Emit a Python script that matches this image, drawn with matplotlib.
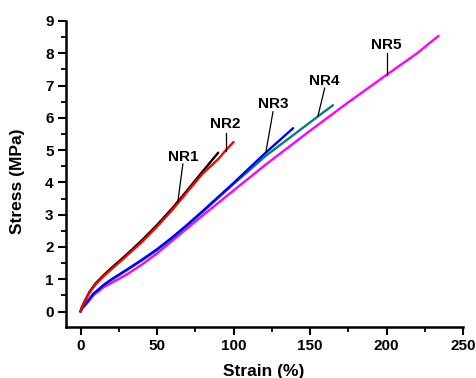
import matplotlib
matplotlib.use("Agg")
import matplotlib.pyplot as plt
from matplotlib.ticker import MultipleLocator

plt.rcParams['font.family'] = ['Liberation Sans', 'DejaVu Sans']
plt.rcParams['font.weight'] = 'bold'

nr1_strain = [0, 1, 3, 6, 10, 15, 20, 30, 40, 50, 60, 70, 80, 90]
nr1_stress = [0, 0.15, 0.35, 0.62, 0.88, 1.12, 1.34, 1.76, 2.2, 2.68, 3.2, 3.77, 4.35, 4.92]
nr2_strain = [0, 1, 3, 6, 10, 15, 20, 30, 40, 50, 60, 70, 80, 90, 95, 100]
nr2_stress = [0, 0.14, 0.33, 0.6, 0.85, 1.09, 1.3, 1.72, 2.15, 2.63, 3.15, 3.72, 4.28, 4.72, 5.0, 5.25]
nr3_strain = [0, 1, 4, 8.4, 15, 20, 30, 40, 50, 60, 70, 80, 90, 100, 110, 121, 130, 139]
nr3_stress = [0, 0.1, 0.28, 0.55, 0.82, 0.99, 1.29, 1.6, 1.93, 2.3, 2.7, 3.12, 3.55, 3.98, 4.43, 4.92, 5.3, 5.68]
nr4_strain = [0, 1, 4, 8.4, 15, 20, 30, 40, 50, 60, 70, 80, 90, 100, 110, 121, 140, 155.6, 165]
nr4_stress = [0, 0.1, 0.27, 0.54, 0.8, 0.97, 1.27, 1.58, 1.9, 2.27, 2.67, 3.09, 3.52, 3.95, 4.36, 4.82, 5.5, 6.06, 6.39]
nr5_strain = [0, 1, 4, 8.4, 15, 20, 30, 40, 50, 64, 80, 100, 121, 150, 175, 200, 220, 234]
nr5_stress = [0, 0.09, 0.24, 0.5, 0.75, 0.88, 1.14, 1.45, 1.8, 2.35, 2.98, 3.75, 4.55, 5.6, 6.48, 7.33, 8.0, 8.54]

labels = ["NR1", "NR2", "NR3", "NR4", "NR5"]
colors = ["black", "#ff0000", "#0000ff", "#008080", "#ff00ff"]
# annotation: text position, pointer start, pointer end (data coords)
text_pos = [(66.9, 4.79), (94.3, 5.81), (125.8, 6.43), (159.6, 7.14), (199.9, 8.26)]
ptr_start = [(66.9, 4.57), (94.8, 5.54), (125.8, 6.19), (159.6, 6.92), (200.3, 8.02)]
ptr_end = [(63.6, 3.4), (94.8, 4.98), (121.1, 4.92), (155.2, 6.06), (200.3, 7.33)]

W, H = 476, 378
fig = plt.figure(figsize=(W / 100, H / 100), dpi=100)
ax = fig.add_axes([66 / W, 1 - 327 / H, (463 - 66) / W, (327 - 21) / H])

series = [(nr1_strain, nr1_stress), (nr2_strain, nr2_stress), (nr3_strain, nr3_stress),
          (nr4_strain, nr4_stress), (nr5_strain, nr5_stress)]
order = [4, 3, 2, 0, 1]
for i in order:
    s, st = series[i]
    ax.plot(s, st, color=colors[i], lw=1.7, solid_capstyle='round', solid_joinstyle='round')

for lab, tp, ps, pe in zip(labels, text_pos, ptr_start, ptr_end):
    ax.plot([ps[0], pe[0]], [ps[1], pe[1]], color='black', lw=0.9)
    ax.text(tp[0], tp[1], lab, ha='center', va='center', fontsize=11, fontweight='bold')

ax.set_xlim(-9.5, 250)
ax.set_ylim(-0.48, 9)
ax.xaxis.set_major_locator(MultipleLocator(50))
ax.xaxis.set_minor_locator(MultipleLocator(25))
ax.yaxis.set_major_locator(MultipleLocator(1))
ax.yaxis.set_minor_locator(MultipleLocator(0.5))
for sp in ['top', 'right']:
    ax.spines[sp].set_visible(False)
for sp in ['left', 'bottom']:
    ax.spines[sp].set_linewidth(1.8)
ax.tick_params(which='major', direction='out', length=6, width=1.5, labelsize=11, pad=3)
ax.tick_params(which='minor', direction='out', length=3.5, width=1.3)
for t in ax.get_xticklabels() + ax.get_yticklabels():
    t.set_fontweight('bold')

fig.text(264 / W, 1 - 371.5 / H, "Strain (%)", ha='center', va='center', fontsize=12.5, fontweight='bold')
fig.text(18 / W, 1 - 181 / H, "Stress (MPa)", ha='center', va='center', rotation=90,
         fontsize=12.5, fontweight='bold')

fig.savefig("out.png", dpi=100)
